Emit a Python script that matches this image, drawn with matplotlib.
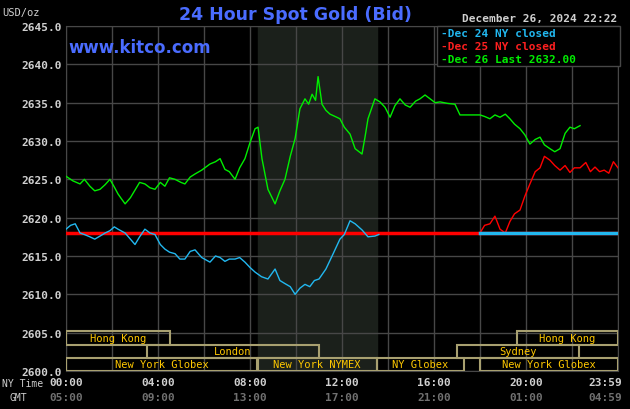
import matplotlib
matplotlib.use("Agg")
import matplotlib.pyplot as plt
from matplotlib.patches import Rectangle

g_h = [0,0.3,0.61,0.8,1.04,1.25,1.48,1.7,1.91,2.1,2.26,2.4,2.57,2.8,3.0,3.2,3.43,3.65,3.87,4.1,4.3,4.5,4.74,5.0,5.17,5.4,5.61,5.9,6.26,6.5,6.7,6.91,7.1,7.35,7.55,7.78,8.0,8.22,8.35,8.52,8.78,9.09,9.3,9.52,9.75,9.96,10.17,10.39,10.55,10.7,10.85,10.96,11.13,11.3,11.48,11.7,11.91,12.1,12.35,12.57,12.87,13.0,13.13,13.43,13.65,13.87,14.09,14.3,14.52,14.75,14.96,15.2,15.39,15.61,15.83,16.05,16.26,16.6,16.91,17.13,17.5,18.0,18.2,18.43,18.65,18.87,19.1,19.3,19.5,19.74,19.95,20.17,20.4,20.61,20.8,21.04,21.25,21.48,21.7,21.91,22.1,22.35]
g_p = [2625.4,2624.8,2624.4,2625.0,2624.1,2623.5,2623.7,2624.3,2625.0,2624.0,2623.1,2622.5,2621.8,2622.6,2623.6,2624.6,2624.4,2623.9,2623.7,2624.6,2624.1,2625.2,2625.0,2624.6,2624.4,2625.3,2625.7,2626.2,2627.0,2627.3,2627.7,2626.3,2626.0,2625.0,2626.5,2627.7,2629.8,2631.6,2631.8,2627.7,2623.7,2621.8,2623.5,2625.0,2628.0,2630.3,2634.2,2635.5,2634.8,2636.1,2635.3,2638.4,2634.8,2634.0,2633.5,2633.2,2632.9,2631.8,2630.9,2629.0,2628.3,2630.5,2632.9,2635.5,2635.1,2634.4,2633.1,2634.6,2635.5,2634.7,2634.4,2635.2,2635.5,2636.0,2635.5,2635.0,2635.1,2634.9,2634.8,2633.4,2633.4,2633.4,2633.2,2632.9,2633.4,2633.1,2633.5,2632.9,2632.2,2631.6,2630.8,2629.6,2630.2,2630.5,2629.5,2629.0,2628.6,2629.0,2631.0,2631.8,2631.6,2632.0]

b_h = [0,0.2,0.4,0.61,0.8,1.04,1.25,1.48,1.7,1.91,2.1,2.26,2.57,2.8,3.0,3.2,3.43,3.65,3.87,4.1,4.3,4.5,4.74,4.95,5.17,5.4,5.61,5.9,6.26,6.5,6.7,6.91,7.1,7.35,7.55,7.78,8.0,8.22,8.5,8.78,9.09,9.3,9.52,9.75,9.96,10.17,10.39,10.6,10.8,11.0,11.3,11.6,11.91,12.1,12.35,12.57,12.87,13.13,13.43,13.6]
b_p = [2618.5,2619.0,2619.2,2618.0,2617.8,2617.5,2617.2,2617.6,2618.0,2618.3,2618.8,2618.5,2618.0,2617.2,2616.5,2617.5,2618.5,2618.0,2617.8,2616.5,2615.9,2615.5,2615.3,2614.6,2614.6,2615.6,2615.8,2614.8,2614.2,2615.0,2614.8,2614.3,2614.6,2614.6,2614.8,2614.2,2613.5,2612.9,2612.3,2612.0,2613.3,2611.8,2611.4,2611.0,2610.0,2610.8,2611.3,2611.0,2611.8,2612.0,2613.3,2615.2,2617.2,2617.8,2619.6,2619.2,2618.4,2617.5,2617.6,2617.8]

r_h = [18.0,18.2,18.43,18.65,18.87,19.1,19.3,19.5,19.74,19.95,20.17,20.4,20.61,20.8,21.04,21.25,21.48,21.7,21.91,22.1,22.35,22.6,22.8,23.0,23.2,23.4,23.6,23.8,24.0]
r_p = [2618.0,2619.0,2619.2,2620.2,2618.5,2618.0,2619.5,2620.5,2621.0,2622.8,2624.4,2626.0,2626.5,2628.0,2627.5,2626.8,2626.2,2626.8,2625.9,2626.5,2626.5,2627.2,2626.0,2626.6,2626.0,2626.2,2625.8,2627.3,2626.5]

flat_level = 2618.0
sessions = [  # (label, start, end, row)
    ("Hong Kong", 0, 4.5, 2), ("Hong Kong", 19.6, 24, 2),
    ("London", 3.5, 11.0, 1), ("Sydney", 17.0, 22.3, 1),
    ("New York Globex", 0, 8.3, 0), ("New York NYMEX", 8.33, 13.5, 0),
    ("NY Globex", 13.5, 17.3, 0), ("New York Globex", 18.0, 24, 0),
]
ny_ticks = ["00:00","04:00","08:00","12:00","16:00","20:00","23:59"]
gmt_ticks = ["05:00","09:00","13:00","17:00","21:00","01:00","04:59"]

mono = "DejaVu Sans Mono"
fig = plt.figure(figsize=(6.3, 4.1), dpi=100, facecolor="black")
ax = fig.add_axes([66/630, 38/410, 552/630, 345/410])
ax.set_facecolor("black")
ax.set_xlim(0, 24)
ax.set_ylim(2600, 2645)
ax.axvspan(8.33, 13.5, color="#1b201b", zorder=0)
for x in range(0, 25, 2):
    ax.axvline(x, color="#474747", lw=1, zorder=1)
for y in range(2600, 2646, 5):
    ax.axhline(y, color="#474747", lw=1, zorder=1)
rh = 1.72
for lab, s, e, row in sessions:
    y0 = 2600 + row * rh
    ax.add_patch(Rectangle((s, y0), e - s, rh, fill=False, ec="#a8a070", lw=1.5, zorder=3))
    ax.text((s + e) / 2, y0 + rh / 2, lab, color="#ffc800", family=mono, fontsize=7.5,
            ha="center", va="center", zorder=4)
ax.plot([0, 24], [flat_level, flat_level], color="#ff0000", lw=2.5, zorder=5)
ax.plot(r_h, r_p, color="#ff0000", lw=1, zorder=5)
ax.plot(b_h, b_p, color="#22b8f0", lw=1, zorder=6)
ax.plot([18, 24], [flat_level, flat_level], color="#22b8f0", lw=2.5, zorder=6)
ax.plot(g_h, g_p, color="#00ee00", lw=1, zorder=7)
ax.set_xticks([])
ax.set_yticks(range(2600, 2646, 5))
ax.set_yticklabels([f"{v:.1f}" for v in range(2600, 2646, 5)], color="#d0d0d0",
                   family=mono, fontsize=8, fontweight="bold")
ax.tick_params(axis="y", length=0, pad=3)
for s in ax.spines.values():
    s.set_color("#474747")

for i, (a, b) in enumerate(zip(ny_ticks, gmt_ticks)):
    if i < 6:
        xpix, ha = 66 + i * 92, "center"
    else:
        xpix, ha = 622, "right"
    fig.text(xpix / 630, 1 - 383 / 410, a, color="#d0d0d0", family=mono, fontsize=8,
             fontweight="bold", ha=ha, va="center")
    fig.text(xpix / 630, 1 - 398 / 410, b, color="#707070", family=mono, fontsize=8,
             fontweight="bold", ha=ha, va="center")
fig.text(2 / 630, 1 - 384 / 410, "NY Time", color="#d0d0d0", family=mono, fontsize=7, va="center")
fig.text(10 / 630, 1 - 398 / 410, "GMT", color="#d0d0d0", family=mono, fontsize=7, va="center")
fig.text(2 / 630, 1 - 13 / 410, "USD/oz", color="#d0d0d0", family=mono, fontsize=7.5, va="center")
fig.text(295 / 630, 1 - 15 / 410, "24 Hour Spot Gold (Bid)", color="#4a6cff", fontsize=12.5,
         fontweight="bold", ha="center", va="center")
fig.text(68 / 630, 1 - 48 / 410, "www.kitco.com", color="#4a6cff", fontsize=12,
         fontweight="bold", va="center")
fig.text(540 / 630, 1 - 19 / 410, "December 26, 2024 22:22", color="#d0d0d0", family=mono,
         fontsize=8, fontweight="bold", ha="center", va="center")
fig.patches.append(Rectangle((437 / 630, 1 - 67 / 410), 183 / 630, 40 / 410, transform=fig.transFigure,
                             fc="black", ec="#474747", lw=1, zorder=10))
for j, (t, c) in enumerate([("-Dec 24 NY closed", "#22b8f0"), ("-Dec 25 NY closed", "#ff2020"),
                            ("-Dec 26 Last 2632.00", "#00ee00")]):
    fig.text(441 / 630, 1 - (34 + 13 * j) / 410, t, color=c, family=mono, fontsize=8,
             fontweight="bold", va="center", zorder=11)
fig.savefig("out.png", dpi=100, facecolor="black")
